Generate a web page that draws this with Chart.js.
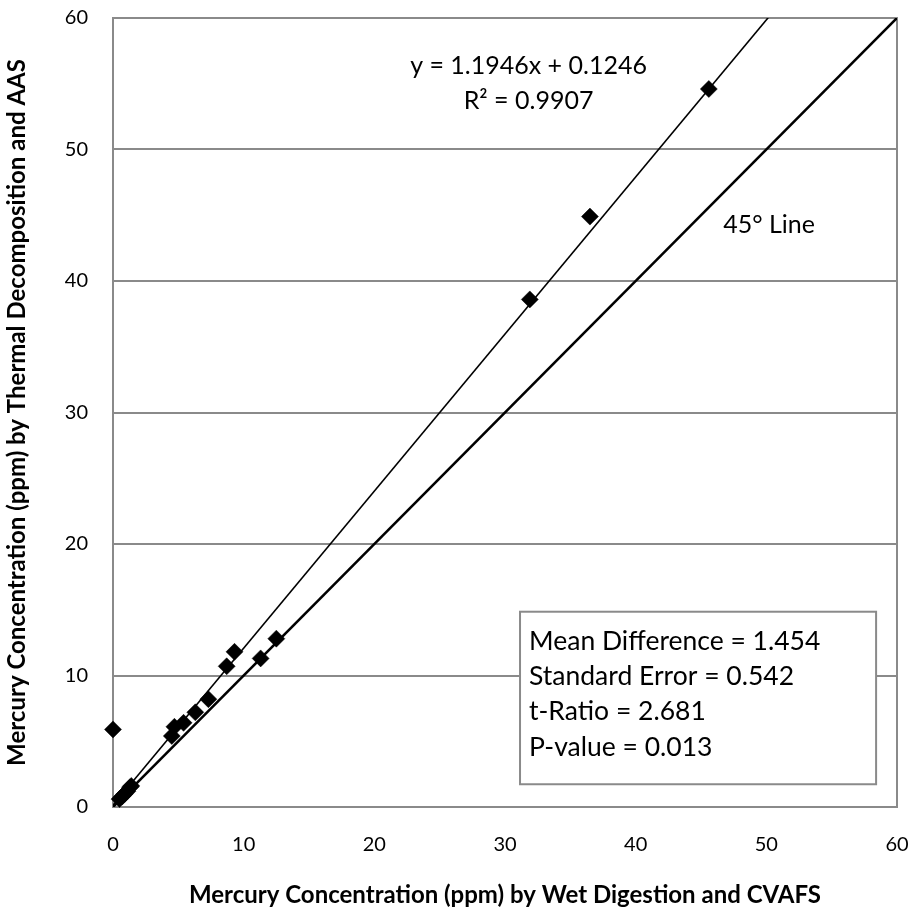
<!DOCTYPE html>
<html><head><meta charset="utf-8">
<script src="https://cdn.jsdelivr.net/npm/chart.js@4.4.1/dist/chart.umd.min.js"></script>
<style>html,body{margin:0;padding:0;background:#fff}#wrap{width:914px;height:918px}</style>
</head><body><div id="wrap"><canvas id="c" width="914" height="918"></canvas></div>
<script>
// ---- data ----
const wetDigestion   = [0.0, 0.5, 0.7, 0.9, 1.1, 1.3, 1.4, 4.5, 4.7, 5.4, 6.3, 7.3, 8.7, 9.3, 11.3, 12.5, 31.9, 36.5, 45.6];
const thermalDecomp  = [5.9, 0.6, 0.8, 1.0, 1.2, 1.5, 1.6, 5.4, 6.1, 6.4, 7.2, 8.2, 10.7, 11.8, 11.3, 12.8, 38.6, 44.9, 54.6];
const trendX = [0, 60];
const trendY = [0.1246, 71.8006];
const diagX = [0, 60];
const diagY = [0, 60];
const xTickValues = [0, 10, 20, 30, 40, 50, 60];
const yTickValues = [0, 10, 20, 30, 40, 50, 60];
const xTitle = 'Mercury Concentration (ppm) by Wet Digestion and CVAFS';
const yTitle = 'Mercury Concentration (ppm) by Thermal Decomposition and AAS';
const equationLines = ['y = 1.1946x + 0.1246', 'R\u00B2 = 0.9907'];
const diagLabel = '45\u00B0 Line';
const statsLines = ['Mean Difference = 1.454', 'Standard Error = 0.542', 't-Ratio = 2.681', 'P-value = 0.013'];

const FONT = 'Lato, "Open Sans", sans-serif';
const GRID = '#8a8a8a';

const toPts = (xs, ys) => xs.map((x, i) => ({x, y: ys[i]}));

const annot = {
  id: 'annot',
  beforeDatasetsDraw(chart) {
    const {ctx, chartArea: a} = chart;
    ctx.save();
    ctx.strokeStyle = GRID;
    ctx.lineWidth = 2;
    ctx.strokeRect(a.left, a.top, a.right - a.left, a.bottom - a.top);
    ctx.restore();
  },
  afterDatasetsDraw(chart) {
    const {ctx} = chart;
    const xs = chart.scales.x, ys = chart.scales.y;
    ctx.save();
    ctx.fillStyle = '#000';
    ctx.font = '25px ' + FONT;
    // regression equation
    ctx.textAlign = 'center';
    ctx.textBaseline = 'alphabetic';
    const ex = xs.getPixelForValue(31.8);
    ctx.fillText(equationLines[0], ex, ys.getPixelForValue(56.4) + 9);
    ctx.fillText(equationLines[1], ex, ys.getPixelForValue(53.8) + 9);
    // 45 line label
    ctx.textAlign = 'left';
    ctx.fillText(diagLabel, xs.getPixelForValue(46.7), ys.getPixelForValue(44.3) + 9);
    // stats box
    const bl = xs.getPixelForValue(31.15), br = xs.getPixelForValue(58.4);
    const bt = ys.getPixelForValue(14.85), bb = ys.getPixelForValue(1.73);
    ctx.fillStyle = '#fff';
    ctx.fillRect(bl, bt, br - bl, bb - bt);
    ctx.strokeStyle = GRID;
    ctx.lineWidth = 2;
    ctx.strokeRect(bl, bt, br - bl, bb - bt);
    ctx.fillStyle = '#000';
    ctx.font = '26.5px ' + FONT;
    const centers = [12.66, 10.0, 7.33, 4.57];
    statsLines.forEach((t, i) => ctx.fillText(t, bl + 9, ys.getPixelForValue(centers[i]) + 9));
    ctx.restore();
  }
};

new Chart(document.getElementById('c'), {
  type: 'scatter',
  data: {
    datasets: [
      {
        label: 'Samples',
        data: toPts(wetDigestion, thermalDecomp),
        pointStyle: 'rectRot',
        pointRadius: 8.5,
        pointBackgroundColor: '#000',
        pointBorderColor: '#000',
        pointBorderWidth: 0.5,
        showLine: false,
        clip: false,
        order: 0
      },
      {
        label: 'Linear trend',
        data: toPts(trendX, trendY),
        showLine: true,
        borderColor: '#000',
        borderWidth: 1.6,
        pointRadius: 0,
        order: 1
      },
      {
        label: '45 degree line',
        data: toPts(diagX, diagY),
        showLine: true,
        borderColor: '#000',
        borderWidth: 2.6,
        pointRadius: 0,
        order: 2
      }
    ]
  },
  plugins: [annot],
  options: {
    responsive: false,
    animation: false,
    devicePixelRatio: 1,
    layout: {padding: {top: 18, right: 17, left: 0, bottom: 0}},
    plugins: {legend: {display: false}, tooltip: {enabled: false}},
    scales: {
      x: {
        type: 'linear', min: 0, max: 60,
        afterBuildTicks: s => { s.ticks = xTickValues.map(v => ({value: v})); },
        afterFit: s => { s.height = 111; s.paddingLeft = 0; s.paddingRight = 0; },
        grid: {display: false, drawTicks: false},
        border: {display: false},
        ticks: {padding: 26, color: '#000', font: {family: FONT, size: 20}, maxRotation: 0},
        title: {display: true, text: xTitle, color: '#000', font: {family: FONT, size: 24, weight: 'bold'}, padding: {top: 0, bottom: 8}}
      },
      y: {
        type: 'linear', min: 0, max: 60,
        afterBuildTicks: s => { s.ticks = yTickValues.map(v => ({value: v})); },
        afterFit: s => { s.width = 113; s.paddingTop = 0; s.paddingBottom = 0; },
        grid: {color: GRID, lineWidth: 2, drawTicks: false},
        border: {display: false},
        ticks: {padding: 25, color: '#000', font: {family: FONT, size: 20}},
        title: {display: true, text: yTitle, color: '#000', font: {family: FONT, size: 24, weight: 'bold'}, padding: {top: 3, bottom: 0}}
      }
    }
  }
});
</script></body></html>
